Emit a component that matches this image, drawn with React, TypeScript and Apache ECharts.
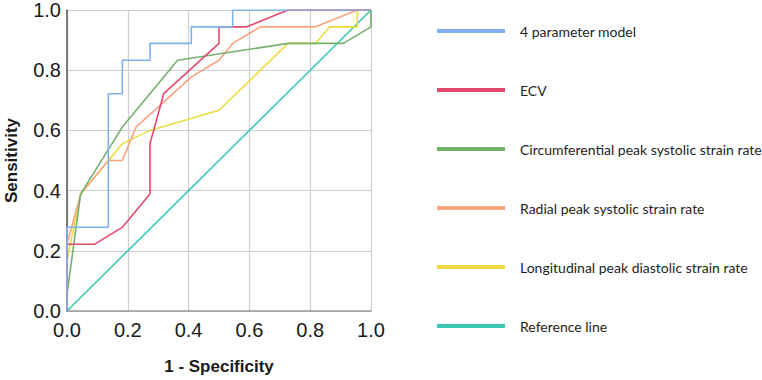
import React, { useEffect, useRef } from "react";
import * as echarts from "echarts";

// ROC curves: [1 - specificity, sensitivity] pairs
const fourParamModel: number[][] = [
  [0, 0], [0, 0.278], [0.136, 0.278], [0.136, 0.722], [0.182, 0.722],
  [0.182, 0.833], [0.273, 0.833], [0.273, 0.889], [0.409, 0.889],
  [0.409, 0.944], [0.545, 0.944], [0.545, 1], [1, 1],
];
const ecv: number[][] = [
  [0, 0], [0, 0.222], [0.091, 0.222], [0.182, 0.278], [0.273, 0.389],
  [0.273, 0.556], [0.318, 0.722], [0.5, 0.889], [0.5, 0.944],
  [0.591, 0.944], [0.727, 1], [1, 1],
];
const circumferential: number[][] = [
  [0, 0], [0, 0.056], [0.045, 0.389], [0.182, 0.611], [0.364, 0.833],
  [0.727, 0.889], [0.909, 0.889], [1, 0.944], [1, 1],
];
const radial: number[][] = [
  [0, 0], [0, 0.222], [0.045, 0.389], [0.136, 0.5], [0.182, 0.5],
  [0.227, 0.611], [0.318, 0.694], [0.409, 0.778], [0.5, 0.833],
  [0.545, 0.889], [0.636, 0.944], [0.818, 0.944], [0.955, 1], [1, 1],
];
const longitudinal: number[][] = [
  [0, 0], [0, 0.167], [0.045, 0.389], [0.182, 0.556], [0.273, 0.6],
  [0.5, 0.667], [0.727, 0.889], [0.818, 0.889], [0.864, 0.944],
  [0.955, 0.944], [0.955, 1], [1, 1],
];
const referenceLine: number[][] = [[0, 0], [1, 1]];

const seriesNames = [
  "4 parameter model",
  "ECV",
  "Circumferential peak systolic strain rate",
  "Radial peak systolic strain rate",
  "Longitudinal peak diastolic strain rate",
  "Reference line",
];
const seriesData = [fourParamModel, ecv, circumferential, radial, longitudinal, referenceLine];
const seriesColors = ["#7fb1ee", "#e6486d", "#74b06b", "#f9a47e", "#e9dd40", "#3ccab6"];

export default function App() {
  const ref = useRef<HTMLDivElement>(null);

  useEffect(() => {
    document.body.style.margin = "0";
    if (!ref.current) return;
    const chart = echarts.init(ref.current, undefined, { renderer: "svg" });
    const tickFont = {
      fontFamily: "Liberation Sans, Arial, sans-serif",
      fontSize: 20,
      color: "#1a1a1a",
    };
    const titleFont = {
      fontFamily: "Liberation Sans, Arial, sans-serif",
      fontSize: 17,
      fontWeight: "bold" as const,
      color: "#1a1a1a",
    };
    chart.setOption({
      animation: false,
      backgroundColor: "#ffffff",
      grid: { left: 67, right: 391, top: 7, bottom: 69, containLabel: false },
      xAxis: {
        type: "value",
        min: 0,
        max: 1,
        interval: 0.2,
        name: "1 - Specificity",
        nameLocation: "middle",
        nameGap: 47,
        nameTextStyle: titleFont,
        axisLine: { show: true, lineStyle: { color: "#9a9a9a", width: 1.5 } },
        axisTick: { show: false },
        axisLabel: { ...tickFont, margin: 9, formatter: (v: number) => v.toFixed(1) },
        splitLine: { show: true, lineStyle: { color: "#cfcfcf", width: 1.2 } },
      },
      yAxis: {
        type: "value",
        min: 0,
        max: 1,
        interval: 0.2,
        name: "Sensitivity",
        nameLocation: "middle",
        nameGap: 47,
        nameTextStyle: titleFont,
        axisLine: { show: true, lineStyle: { color: "#555555", width: 1.5 } },
        axisTick: { show: false },
        axisLabel: { ...tickFont, margin: 6, formatter: (v: number) => v.toFixed(1) },
        splitLine: { show: true, lineStyle: { color: "#cfcfcf", width: 1.2 } },
      },
      legend: {
        orient: "vertical",
        left: 432,
        top: 18,
        itemWidth: 68,
        itemHeight: 4,
        itemGap: 43,
        icon: "rect",
        data: seriesNames,
        textStyle: {
          fontFamily: "Lato, Open Sans, sans-serif",
          fontSize: 14,
          color: "#1e1e1e",
          lineHeight: 16,
          padding: [0, 0, 0, 10],
        },
      },
      series: seriesData.map((data, i) => ({
        name: seriesNames[i],
        type: "line",
        data,
        color: seriesColors[i],
        showSymbol: false,
        symbol: "none",
        lineStyle: { width: 1.6, color: seriesColors[i] },
        z: 10 - i,
      })),
    });
    return () => chart.dispose();
  }, []);

  return <div ref={ref} style={{ width: 762, height: 380 }} />;
}
